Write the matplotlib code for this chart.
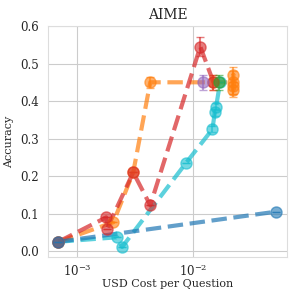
import numpy as np
import matplotlib
matplotlib.use("Agg")
import matplotlib.pyplot as plt
import seaborn as sns

sns.set_style("whitegrid")
plt.rcParams['font.family'] = ['DejaVu Serif']

# series: (cost, accuracy, yerr)
blue_x = [0.00069, 0.051]
blue_y = [0.025, 0.105]
blue_e = [0.0, 0.0]

cyan_x = [0.00069, 0.00221, 0.00244, 0.0087, 0.0146, 0.0153, 0.0157, 0.0170]
cyan_y = [0.025, 0.037, 0.011, 0.236, 0.325, 0.37, 0.385, 0.45]
cyan_e = [0.0, 0.0, 0.0, 0.0, 0.008, 0.01, 0.01, 0.0]

red_x = [0.00069, 0.00178, 0.00181, 0.00304, 0.00426, 0.01148, 0.0149]
red_y = [0.025, 0.09, 0.06, 0.21, 0.122, 0.545, 0.45]
red_e = [0.0, 0.0, 0.0, 0.0, 0.0, 0.025, 0.02]

orange_x = [0.00069, 0.00205, 0.00304, 0.00426, 0.0149, 0.0221, 0.0221, 0.0221, 0.0221]
orange_y = [0.025, 0.077, 0.21, 0.45, 0.45, 0.45, 0.43, 0.47, 0.44]
orange_e = [0.0, 0.0, 0.0, 0.015, 0.02, 0.03, 0.02, 0.02, 0.02]

purple_x = [0.0122]
purple_y = [0.45]
purple_e = [0.02]

green_x = [0.01675]
green_y = [0.45]
green_e = [0.02]

fig, ax = plt.subplots(figsize=(2.99, 2.99), dpi=100)

series = [
    (cyan_x, cyan_y, cyan_e, 'tab:cyan', True, 3),
    (orange_x, orange_y, orange_e, 'tab:orange', True, 3),
    (red_x, red_y, red_e, 'tab:red', True, 3),
    (purple_x, purple_y, purple_e, 'tab:purple', False, 3),
    (green_x, green_y, green_e, 'tab:green', False, 3),
    (blue_x, blue_y, blue_e, 'tab:blue', True, 4),
]

for xs, ys, es, c, line, z in series:
    if line:
        ax.plot(xs, ys, '--', color=c, lw=3, alpha=0.7, zorder=2)
    ax.errorbar(xs, ys, yerr=es, fmt='o', color=c, ms=8, alpha=0.6,
                capsize=3, elinewidth=1.5, zorder=z)

ax.set_xscale('log')
ax.set_xlim(5.6e-4, 0.064)
ax.set_ylim(-0.016, 0.6)
ax.set_yticks([0.0, 0.1, 0.2, 0.3, 0.4, 0.5, 0.6])
ax.set_title('AIME', fontsize=10, pad=5)
ax.set_xlabel('USD Cost per Question', fontsize=8, labelpad=0)
ax.set_ylabel('Accuracy', fontsize=8, labelpad=4)
ax.tick_params(axis='y', labelsize=8.5, pad=3)
ax.tick_params(axis='x', labelsize=8.5, pad=0.5)
for s in ax.spines.values():
    s.set_color('#dddddd')

fig.subplots_adjust(left=0.16, right=0.96, top=0.913, bottom=0.14)
fig.savefig('out.png', dpi=100)
